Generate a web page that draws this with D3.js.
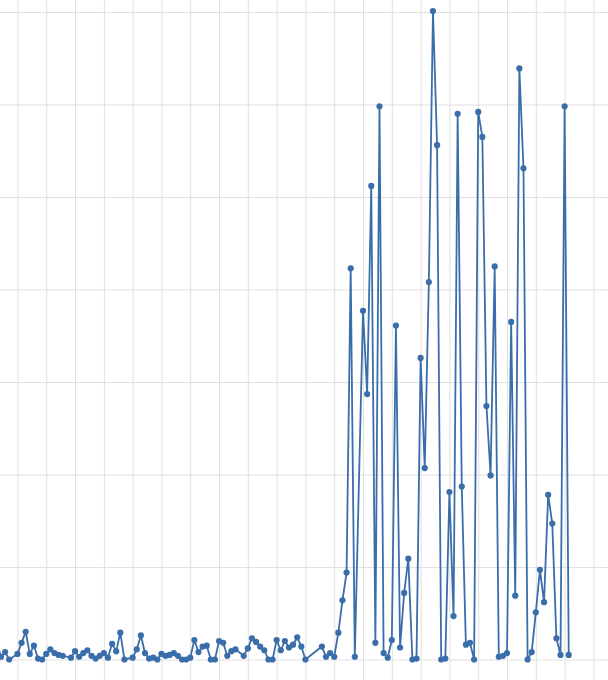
<!DOCTYPE html>
<html>
<head>
<meta charset="utf-8">
<script src="https://cdn.jsdelivr.net/npm/d3@7"></script>
<style>
  html, body { margin: 0; padding: 0; background: #fff; }
  svg { display: block; }
</style>
</head>
<body>
<svg id="chart" width="608" height="680"></svg>
<script>
// Day offsets from the start date (2020-01-01) and the series values
const startDate = "2020-01-01";
const dayOffsets = [
  -1, 0, 1, 2, 4, 5, 6, 7, 8, 9, 10, 11, 12, 13, 14, 15, 17, 18, 19, 20,
  21, 22, 23, 24, 25, 26, 27, 28, 29, 30, 32, 33, 34, 35, 36, 37, 38, 39, 40, 41,
  42, 43, 44, 45, 46, 47, 48, 49, 50, 51, 52, 53, 54, 55, 56, 57, 59, 60, 61, 62,
  63, 64, 65, 66, 67, 68, 69, 70, 71, 72, 73, 74, 78, 79, 80, 81, 82, 83, 84, 85,
  86, 88, 89, 90, 91, 92, 93, 94, 95, 96, 97, 98, 99, 100, 101, 102, 103, 104, 105, 106,
  107, 108, 109, 110, 111, 112, 113, 114, 115, 116, 117, 118, 119, 120, 121, 122, 123, 124, 125, 126,
  127, 128, 129, 130, 131, 132, 133, 134, 135, 136, 137, 138
];
const values = [
  0.18, 0.03, 0.08, 0.00, 0.06, 0.18, 0.30, 0.06, 0.15, 0.01, 0.00, 0.06, 0.11, 0.07, 0.05, 0.04, 0.02, 0.09, 0.03, 0.07,
  0.10, 0.04, 0.01, 0.04, 0.07, 0.02, 0.17, 0.09, 0.29, 0.00, 0.02, 0.11, 0.26, 0.07, 0.01, 0.02, 0.00, 0.06, 0.04, 0.05,
  0.07, 0.04, 0.00, 0.00, 0.02, 0.21, 0.08, 0.14, 0.15, 0.00, 0.00, 0.20, 0.18, 0.04, 0.09, 0.11, 0.04, 0.12, 0.23, 0.19,
  0.14, 0.10, 0.00, 0.00, 0.21, 0.10, 0.20, 0.13, 0.16, 0.24, 0.14, 0.00, 0.14, 0.03, 0.07, 0.03, 0.29, 0.64, 0.94, 4.23,
  0.03, 3.77, 2.87, 5.12, 0.18, 5.98, 0.07, 0.02, 0.21, 3.61, 0.13, 0.72, 1.09, 0.00, 0.01, 3.26, 2.07, 4.08, 7.01, 5.56,
  0.00, 0.01, 1.81, 0.47, 5.90, 1.87, 0.16, 0.18, 0.00, 5.92, 5.65, 2.74, 1.99, 4.25, 0.03, 0.04, 0.07, 3.65, 0.69, 6.39,
  5.31, 0.00, 0.08, 0.51, 0.97, 0.62, 1.78, 1.47, 0.23, 0.05, 5.98, 0.05
];
const yTicks = [0, 1, 2, 3, 4, 5, 6, 7];

const base = new Date(startDate + "T00:00:00Z");
const dayMs = 86400000;
const data = dayOffsets.map((d, i) => ({ date: new Date(base.getTime() + d * dayMs), value: values[i] }));

const svg = d3.select("#chart");
const W = 608, H = 680;
svg.append("rect").attr("width", W).attr("height", H).attr("fill", "#fff");

const pxPerDay = 4.114;
const x0 = 1.0;
const domainEnd = new Date(base.getTime() + 150 * dayMs);
const x = d3.scaleUtc()
  .domain([new Date(base.getTime() - 7 * dayMs), domainEnd])
  .range([x0 - 7 * pxPerDay, x0 + 150 * pxPerDay]);
const y = d3.scaleLinear().domain([0, 7]).range([659.5, 12]);

// vertical weekly grid
const xGrid = d3.axisBottom(x)
  .ticks(d3.utcWeek.every(1))
  .tickSize(-H)
  .tickFormat("");
svg.append("g")
  .attr("transform", `translate(0,${H})`)
  .call(xGrid)
  .call(g => g.select(".domain").remove())
  .call(g => g.selectAll("line").attr("stroke", "#e0e0e0").attr("stroke-width", 1));

// horizontal grid
const yGrid = d3.axisLeft(y)
  .tickValues(yTicks)
  .tickSize(-W)
  .tickFormat("");
svg.append("g")
  .call(yGrid)
  .call(g => g.select(".domain").remove())
  .call(g => g.selectAll("line").attr("stroke", "#e0e0e0").attr("stroke-width", 1));

const color = "#3a6eab";
const line = d3.line().x(d => x(d.date)).y(d => y(d.value));
svg.append("path")
  .datum(data)
  .attr("fill", "none")
  .attr("stroke", color)
  .attr("stroke-width", 1.8)
  .attr("stroke-linejoin", "round")
  .attr("d", line);

svg.append("g").selectAll("circle")
  .data(data)
  .join("circle")
  .attr("cx", d => x(d.date))
  .attr("cy", d => y(d.value))
  .attr("r", 3.1)
  .attr("fill", color);
</script>
</body>
</html>
